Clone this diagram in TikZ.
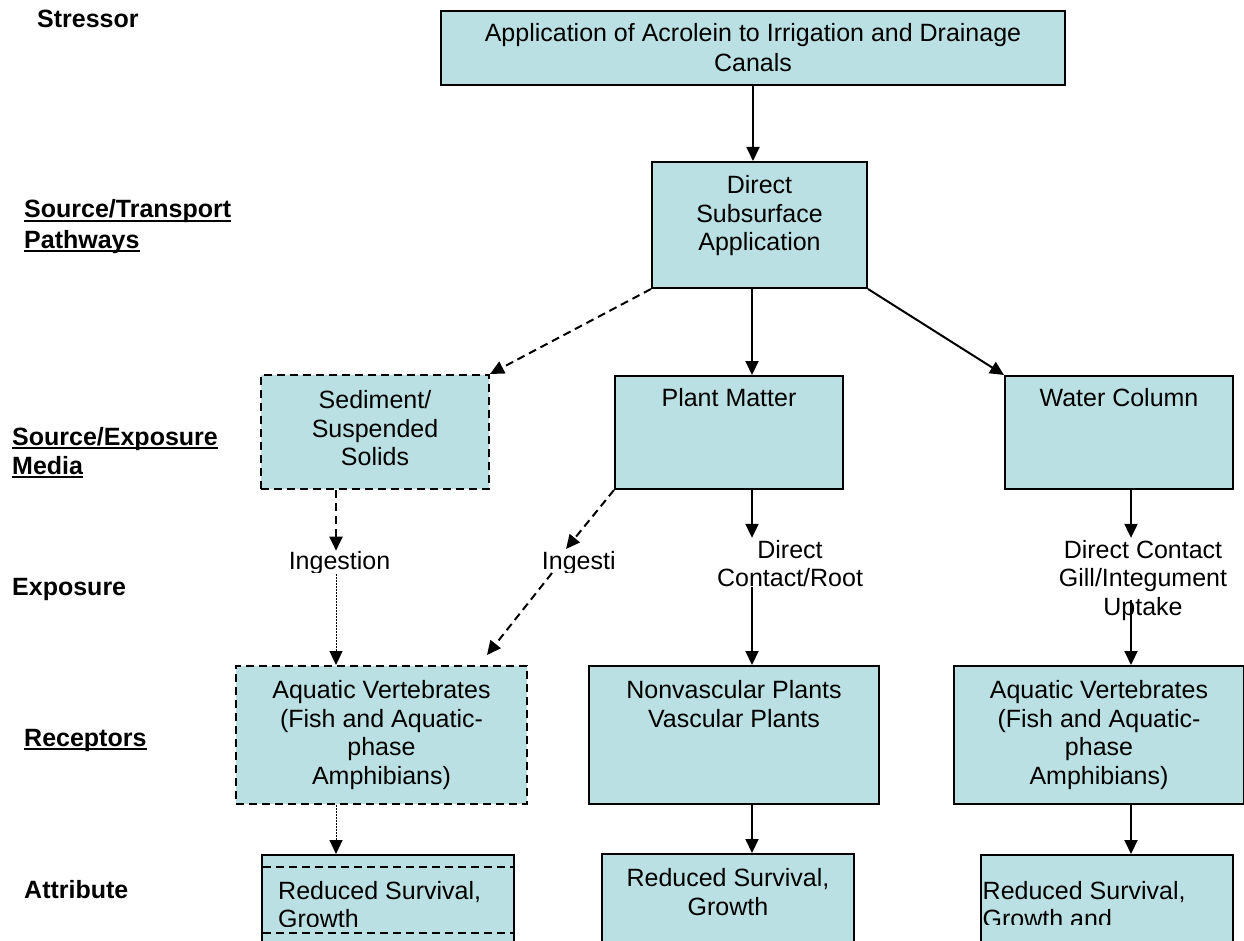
\documentclass[tikz,border=0pt]{standalone}
\usepackage{fontspec}
\setmainfont{Liberation Sans}
\usetikzlibrary{arrows.meta,calc}
\definecolor{boxfill}{RGB}{187,224,227}
\newcommand{\bxt}[4]{\parbox[t][#2][t]{#1}{\centering\vspace*{#3}\strut #4}}
\tikzset{
  every node/.style={font=\fontsize{25}{28.5}\selectfont, inner sep=0pt},
  box/.style={draw=black, line width=2pt, fill=boxfill, anchor=north west, inner sep=0pt},
  dbox/.style={box, dash pattern=on 8pt off 5pt},
  arr/.style={line width=2pt, -{Triangle[width=13pt,length=14pt]}},
  darr/.style={arr, dash pattern=on 8pt off 5pt},
  dotarr/.style={line width=1pt, dash pattern=on 1.5pt off 1.5pt, -{Triangle[width=13pt,length=14pt]}},
  lbl/.style={font=\fontsize{25}{28.5}\selectfont\bfseries, anchor=base west},
  ul/.style={line width=2.5pt},
  tag/.style={anchor=base},
  innerdash/.style={line width=1.5pt, dash pattern=on 8pt off 5pt},
}
\begin{document}
\begin{tikzpicture}[x=1pt,y=-1pt]
\clip (0,0) rectangle (1244,941);
\fill[white] (0,0) rectangle (1244,941);

% column coordinates
\coordinate (cL) at (336,0);
\coordinate (cM) at (752,0);
\coordinate (cR) at (1131,0);

% boxes
\node[box] (top) at (440,10) {\fontsize{25}{30}\selectfont\bxt{624pt}{74pt}{10pt}{Application of Acrolein to Irrigation and Drainage\\Canals}};
\node[box] (ds) at (651,161) {\bxt{215pt}{126pt}{12pt}{Direct\\Subsurface\\Application}};
\node[dbox] (sed) at (260,374) {\bxt{228pt}{114pt}{14pt}{Sediment/\\Suspended\\Solids}};
\node[box] (plant) at (614,375) {\bxt{228pt}{113pt}{11pt}{Plant Matter}};
\node[box] (water) at (1004,375) {\bxt{228pt}{113pt}{11pt}{Water Column}};
\node[dbox] (recL) at (235,665) {\bxt{291pt}{138pt}{13pt}{Aquatic Vertebrates\\(Fish and Aquatic-\\phase\\Amphibians)}};
\node[box] (recM) at (588,665) {\bxt{290pt}{138pt}{13pt}{Nonvascular Plants\\Vascular Plants}};
\node[box] (recR) at (953,665) {\bxt{290pt}{138pt}{13pt}{Aquatic Vertebrates\\(Fish and Aquatic-\\phase\\Amphibians)}};
\node[box, minimum width=252pt, minimum height=110pt] (attL) at (261,854) {};
\node[box] (attM) at (601,853) {\bxt{252pt}{110pt}{13pt}{Reduced Survival,\\Growth}};
\node[box, minimum width=252pt, minimum height=110pt] (attR) at (980,854) {};

% inner dashed text frame of left attribute box
\draw[innerdash] ($(attL.north west)+(2,13)$) -- ($(attL.north east)+(-2,13)$);
\draw[innerdash] ($(attL.north west)+(2,79)$) -- ($(attL.north east)+(-2,79)$);

% clipped attribute texts
\begin{scope}
\clip (262,868) rectangle (512,926.5);
\node[anchor=base west] (attLt) at (278,899) {\parbox[t]{230pt}{\raggedright\strut Reduced Survival,\\Growth}};
\end{scope}
\begin{scope}
\clip (981,856) rectangle (1231,924);
\node[anchor=base west] (attRt) at (982.5,899) {\parbox[t]{240pt}{\raggedright\strut Reduced Survival,\\Growth and}};
\end{scope}

% exposure labels
\begin{scope}
\clip (200,530) rectangle (480,572);
\node[tag] (ing1) at (339.5,569) {Ingestion};
\end{scope}
\begin{scope}
\clip (520,530) rectangle (614,572);
\node[anchor=base west] (ing2) at (541.7,569) {Ingesti};
\end{scope}
\node[tag] (dcr) at (790,558) {\parbox[t]{200pt}{\centering\strut Direct\\Contact/Root}};
\node[tag] (dcg) at (1143,558) {\parbox[t]{220pt}{\centering\strut Direct Contact\\Gill/Integument\\Uptake}};

% left row labels
\node[lbl] (lStress) at (37,28) {Stressor};
\node[lbl] (lST1) at (24,218) {Source/Transport};
\node[lbl] (lST2) at (24,248) {Pathways};
\node[lbl] (lSE1) at (12,445) {Source/Exposure};
\node[lbl] (lSE2) at (12,474) {Media};
\node[lbl] (lExp) at (12,595) {Exposure};
\node[lbl] (lRec) at (24,746) {Receptors};
\node[lbl] (lAtt) at (24,898) {Attribute};
\foreach \n in {lST1,lST2,lSE1,lSE2,lRec}{
  \draw[ul] ($(\n.base west)+(0,3)$) -- ($(\n.base east)+(0,3)$);
}

% connectors
\coordinate (ip1) at (566,549);
\coordinate (ip2) at (552,573);
\coordinate (ip3) at (487,655);
\draw[arr] (top.south) -- (top.south |- ds.north);
\draw[darr] (ds.south west) -- (sed.north east);
\draw[arr] (cM |- ds.south) -- (cM |- plant.north);
\draw[arr] (ds.south east) -- (water.north west);
\draw[darr] (cL |- sed.south) -- (cL |- ing1.north);
\draw[dotarr] (cL |- ing1.south) -- (cL |- recL.north);
\draw[darr] (plant.south west) -- (ip1);
\draw[darr] (ip2) -- (ip3);
\draw[arr] (cM |- plant.south) -- (cM |- dcr.north);
\draw[arr] (cM |- dcr.south) -- (cM |- recM.north);
\draw[arr] (cR |- water.south) -- (cR |- dcg.north);
\draw[arr] ($(cR |- dcg.south)+(0,-20)$) -- (cR |- recR.north);
\draw[dotarr] (cL |- recL.south) -- (cL |- attL.north);
\draw[arr] (cM |- recM.south) -- (cM |- attM.north);
\draw[arr] (cR |- recR.south) -- (cR |- attR.north);
\end{tikzpicture}
\end{document}
